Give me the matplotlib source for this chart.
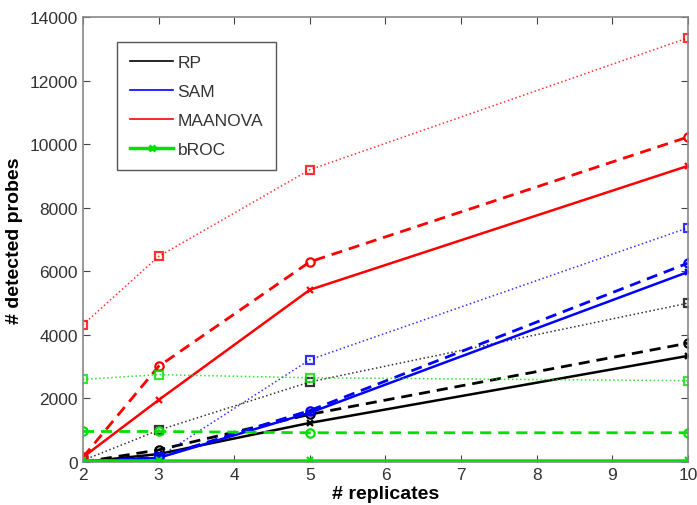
import numpy as np
import matplotlib.pyplot as plt
from matplotlib.lines import Line2D

plt.rcParams['font.family'] = ['Liberation Sans', 'DejaVu Sans']

replicates = [2, 3, 5, 10]

# detected probes per method, three variants each (solid x, dashed o, dotted s)
rp_solid = [0, 250, 1230, 3340]
rp_dashed = [0, 380, 1500, 3740]
rp_dotted = [50, 1000, 2520, 5000]

sam_solid = [0, 130, 1550, 5980]
sam_dashed = [0, 150, 1620, 6260]
sam_dotted = [0, 150, 3220, 7370]

maanova_solid = [150, 1950, 5420, 9320]
maanova_dashed = [150, 3010, 6300, 10230]
maanova_dotted = [4320, 6470, 9200, 13350]

broc_solid = [50, 50, 50, 50]
broc_dashed = [960, 960, 920, 920]
broc_dotted = [2600, 2750, 2650, 2560]

methods = ['RP', 'SAM', 'MAANOVA', 'bROC']
colors = ['black', '#0000ff', '#ff0000', '#00e000']
series = [
    (rp_solid, rp_dashed, rp_dotted),
    (sam_solid, sam_dashed, sam_dotted),
    (maanova_solid, maanova_dashed, maanova_dotted),
    (broc_solid, broc_dashed, broc_dotted),
]

fig = plt.figure(figsize=(6.97, 5.06), dpi=100)
ax = fig.add_axes([0.119, 0.085, 0.868, 0.879])

for col, (sol, das, dot) in zip(colors, series):
    ax.plot(replicates, dot, ls=':', lw=1.1, color=col, marker='s', ms=6,
            mfc='none', mec=col, mew=1.6, alpha=0.8)
    ax.plot(replicates, das, ls='--', lw=2, color=col, marker='o', ms=6,
            mfc='none', mec=col, mew=1.6, dashes=(4, 2.5))
    ax.plot(replicates, sol, ls='-', lw=1.8, color=col, marker='x', ms=5,
            mew=1.6)

ax.set_xlim(2, 10)
ax.set_ylim(0, 14000)
ax.set_xticks(range(2, 11))
ax.set_yticks(range(0, 14001, 2000))
ax.tick_params(direction='in', top=True, right=True, length=5,
               labelsize=12.5, colors='#444444', labelcolor='#333333')
for sp in ax.spines.values():
    sp.set_color('#888888')
    sp.set_linewidth(1.2)

ax.set_xlabel('# replicates', fontsize=14, fontweight='bold', labelpad=2)
ax.set_ylabel('# detected probes', fontsize=14, fontweight='bold', labelpad=5)

handles = [Line2D([], [], color=colors[0], lw=1.2),
           Line2D([], [], color=colors[1], lw=1.2),
           Line2D([], [], color=colors[2], lw=1.2),
           Line2D([], [], color=colors[3], lw=2.5, marker='x', ms=5, mew=2)]
leg = ax.legend(handles, methods, loc='upper left',
                bbox_to_anchor=(0.056, 0.944), borderaxespad=0, fontsize=12.5,
                handlelength=2.5, handletextpad=0.25, labelspacing=0.8,
                borderpad=0.75, fancybox=False, framealpha=1)
leg.get_frame().set_edgecolor('#555555')
leg.get_frame().set_linewidth(1.0)
for t in leg.get_texts():
    t.set_color('#333333')

fig.savefig('out.png', dpi=100)
